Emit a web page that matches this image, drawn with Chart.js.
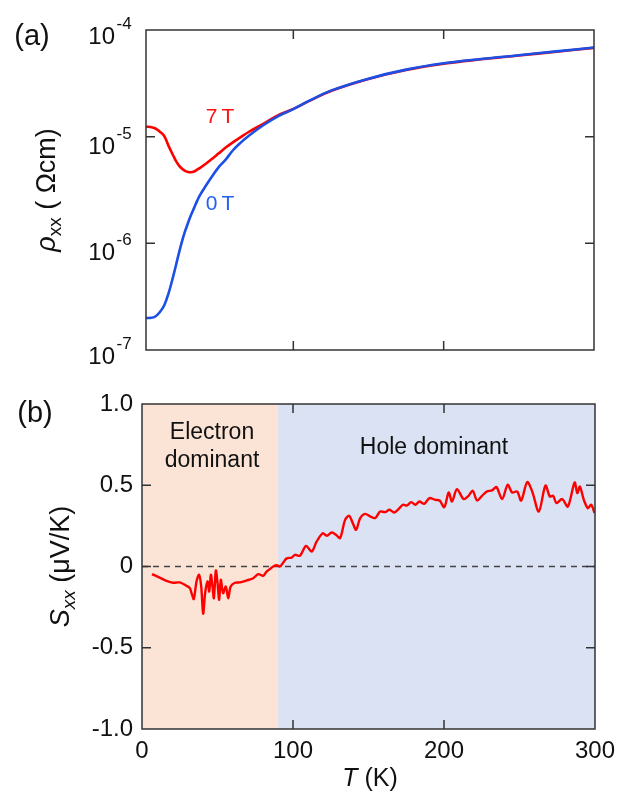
<!DOCTYPE html>
<html><head><meta charset="utf-8">
<script src="https://cdn.jsdelivr.net/npm/chart.js@4.4.1/dist/chart.umd.min.js"></script>
<style>
html,body{margin:0;padding:0;background:#fff;}
#wrap{position:relative;width:618px;height:791px;overflow:hidden;}
canvas{position:absolute;left:0;}
</style></head><body>
<div id="wrap">
<canvas id="ca" width="618" height="380" style="top:0px"></canvas>
<canvas id="cb" width="618" height="411" style="top:380px"></canvas>
</div>
<script>
const FONT = '"Liberation Sans", Arial, Helvetica, sans-serif';

// ---------- Panel (a): resistivity ----------
const tempA = [2,5,8,11,14,17,20,22,24,26,28,30,32,34,36,38,42,46,50,55,60,65,70,80,90,100,110,125,150,175,200,225,250,275,300];
const rho0T = [2.0e-7,2.0e-7,2.05e-7,2.25e-7,2.6e-7,3.4e-7,4.85e-7,6.3e-7,8.2e-7,1.05e-6,1.3e-6,1.56e-6,1.85e-6,2.15e-6,2.5e-6,2.85e-6,3.5e-6,4.25e-6,5.1e-6,6.1e-6,7.5e-6,8.8e-6,1.01e-5,1.28e-5,1.56e-5,1.81e-5,2.15e-5,2.7e-5,3.5e-5,4.25e-5,4.87e-5,5.35e-5,5.8e-5,6.3e-5,6.85e-5];
const rho7T = [1.24e-5,1.23e-5,1.2e-5,1.12e-5,1.02e-5,8.2e-6,6.7e-6,5.9e-6,5.35e-6,5.0e-6,4.78e-6,4.66e-6,4.64e-6,4.72e-6,4.9e-6,5.1e-6,5.6e-6,6.2e-6,6.9e-6,7.9e-6,8.9e-6,9.9e-6,1.1e-5,1.32e-5,1.59e-5,1.82e-5,2.14e-5,2.68e-5,3.47e-5,4.21e-5,4.83e-5,5.31e-5,5.76e-5,6.26e-5,6.8e-5];
const decadesA = [1e-4,1e-5,1e-6,1e-7];
const expLabelsA = ['-4','-5','-6','-7'];
const tempTicksA = [100,200];

// ---------- Panel (b): Seebeck ----------
const tempB = [6.6,11.7,16.2,20.6,25,29.5,31.7,32.8,34.3,36.1,37.8,39.2,40.5,41.8,43.4,44.5,45.6,46.7,47.6,48.9,50,51.1,52.2,53.7,55.5,57.1,58.7,61.5,64.8,69.3,73.7,77,80.3,82.5,84.7,86.9,89.2,91.4,93.6,95.8,99.1,101.3,104.6,108.6,112.4,115.7,119.7,122.4,125.7,128.5,131.2,134.5,137.2,139.6,141.8,144.5,147.8,151.1,154.4,157.7,161,163.9,167,169.9,172.8,175.4,178.3,181,183.8,186.9,190.4,194.2,197.1,200.2,203.1,205.3,208.6,213,216.3,219,221.9,225.2,228.5,231.8,234.7,238.5,242.2,245.1,248.4,251.1,255.1,258.4,262.8,267.2,270.1,272.3,274.5,278.3,282,286.5,288.3,290,292.6,295.3,297.5,299.7];
const seebeck = [-0.047,-0.068,-0.088,-0.10,-0.098,-0.119,-0.133,-0.164,-0.20,-0.092,-0.051,-0.123,-0.29,-0.164,-0.092,-0.154,-0.051,-0.123,-0.195,-0.025,-0.10,-0.205,-0.082,-0.164,-0.123,-0.195,-0.123,-0.10,-0.098,-0.086,-0.072,-0.047,-0.057,-0.031,-0.016,0.0,0.008,0.0,0.025,0.05,0.055,0.072,0.066,0.127,0.092,0.154,0.205,0.189,0.209,0.195,0.175,0.287,0.312,0.267,0.226,0.298,0.324,0.308,0.298,0.338,0.335,0.349,0.332,0.353,0.38,0.375,0.396,0.38,0.40,0.386,0.421,0.41,0.406,0.365,0.455,0.40,0.476,0.415,0.435,0.466,0.406,0.435,0.462,0.468,0.489,0.415,0.503,0.455,0.462,0.406,0.519,0.462,0.338,0.498,0.431,0.435,0.39,0.415,0.369,0.517,0.452,0.492,0.41,0.359,0.38,0.329];
const sTicksInner = [0.5,0,-0.5];
const tTicksInner = [100,200];
const electronRange = [0,90];
const holeRange = [90,300];

const TICK_LEN = 9;

function drawFrame(chart, xTicks, yTicks){
  const {ctx, chartArea:a, scales:{x,y}} = chart;
  ctx.save();
  ctx.strokeStyle = '#333'; ctx.lineWidth = 1.5;
  ctx.strokeRect(a.left, a.top, a.right-a.left, a.bottom-a.top);
  ctx.beginPath();
  xTicks.forEach(v=>{const p=x.getPixelForValue(v);
    ctx.moveTo(p,a.bottom); ctx.lineTo(p,a.bottom-TICK_LEN);
    ctx.moveTo(p,a.top); ctx.lineTo(p,a.top+TICK_LEN);});
  yTicks.forEach(v=>{const p=y.getPixelForValue(v);
    ctx.moveTo(a.left,p); ctx.lineTo(a.left+TICK_LEN,p);
    ctx.moveTo(a.right,p); ctx.lineTo(a.right-TICK_LEN,p);});
  ctx.stroke();
  ctx.restore();
}

function drawRotated(ctx, parts, cx, cy){
  ctx.save();
  ctx.translate(cx, cy);
  ctx.rotate(-Math.PI/2);
  let total = 0;
  parts.forEach(p=>{ctx.font=p.font; p.w=ctx.measureText(p.t).width; total+=p.w;});
  let xx = -total/2;
  ctx.textBaseline='alphabetic'; ctx.textAlign='left'; ctx.fillStyle='#111';
  parts.forEach(p=>{ctx.font=p.font; ctx.fillText(p.t, xx, p.dy||0); xx+=p.w;});
  ctx.restore();
}

function drawRich(ctx, parts, cx, baseline){
  let total = 0;
  parts.forEach(p=>{ctx.font=p.font; p.w=ctx.measureText(p.t).width; total+=p.w;});
  let xx = cx - total/2;
  ctx.textBaseline='alphabetic'; ctx.textAlign='left'; ctx.fillStyle='#111';
  parts.forEach(p=>{ctx.font=p.font; ctx.fillText(p.t, xx, baseline+(p.dy||0)); xx+=p.w;});
}

const decoA = {
  id:'decoA',
  afterDraw(chart){
    const {ctx, scales:{y}} = chart;
    drawFrame(chart, tempTicksA, decadesA.slice(1,3));
    ctx.save();
    ctx.fillStyle='#111';
    decadesA.forEach((v,i)=>{
      const p = y.getPixelForValue(v);
      const dy = (i===0||i===decadesA.length-1) ? 14 : 17;
      ctx.font = '24px '+FONT; ctx.textAlign='right'; ctx.textBaseline='alphabetic';
      ctx.fillText('10', 115, p+dy);
      ctx.font = '17px '+FONT; ctx.textAlign='left';
      ctx.fillText(expLabelsA[i], 116.5, p+dy-15);
    });
    drawRotated(ctx, [
      {t:'\u03C1', font:'italic 27px '+FONT},
      {t:'xx', font:'19px '+FONT, dy:6},
      {t:' ( \u03A9cm)', font:'27px '+FONT}
    ], 54.5, 190);
    ctx.font='29px '+FONT; ctx.textAlign='center'; ctx.textBaseline='middle'; ctx.fillStyle='#111';
    ctx.fillText('(a)', 32, 37);
    ctx.font='21px '+FONT;
    ctx.fillStyle='#ff1010'; ctx.fillText('7\u2009T', 220, 117);
    ctx.fillStyle='#2660f0'; ctx.fillText('0\u2009T', 220, 204);
    ctx.restore();
  }
};

new Chart(document.getElementById('ca'), {
  type:'line',
  data:{datasets:[
    {label:'0 T', data: tempA.map((t,i)=>({x:t,y:rho0T[i]})), borderColor:'#1c4fe6', borderWidth:2.6, pointRadius:0, tension:0.4, fill:false},
    {label:'7 T', data: tempA.map((t,i)=>({x:t,y:rho7T[i]})), borderColor:'#ff0000', borderWidth:2.6, pointRadius:0, tension:0.4, fill:false}
  ]},
  options:{
    responsive:false, animation:false, devicePixelRatio:1,
    layout:{padding:{top:30,right:24,left:0,bottom:0}},
    plugins:{legend:{display:false}, tooltip:{enabled:false}},
    scales:{
      x:{type:'linear', min:2, max:300, ticks:{display:false}, grid:{display:false, drawTicks:false}, border:{display:false}, afterFit(s){s.height=30;}},
      y:{type:'logarithmic', min:1e-7, max:1e-4, ticks:{display:false}, grid:{display:false, drawTicks:false}, border:{display:false}, afterFit(s){s.width=146;}}
    }
  },
  plugins:[decoA]
});

const decoB = {
  id:'decoB',
  beforeDatasetsDraw(chart){
    const {ctx, chartArea:a, scales:{x,y}} = chart;
    ctx.save();
    const e0=x.getPixelForValue(electronRange[0]), e1=x.getPixelForValue(electronRange[1]);
    const h0=x.getPixelForValue(holeRange[0]), h1=x.getPixelForValue(holeRange[1]);
    ctx.fillStyle='#fbe4d6'; ctx.fillRect(e0, a.top, e1-e0, a.bottom-a.top);
    ctx.fillStyle='#dae2f3'; ctx.fillRect(h0, a.top, h1-h0, a.bottom-a.top);
    const z = y.getPixelForValue(0);
    ctx.strokeStyle='#444'; ctx.lineWidth=1.4; ctx.setLineDash([6,5]);
    ctx.beginPath(); ctx.moveTo(a.left, z); ctx.lineTo(a.right, z); ctx.stroke();
    ctx.restore();
  },
  afterDraw(chart){
    const {ctx} = chart;
    drawFrame(chart, tTicksInner, sTicksInner);
    ctx.save();
    drawRotated(ctx, [
      {t:'S', font:'italic 27px '+FONT},
      {t:'xx', font:'italic 19px '+FONT, dy:6},
      {t:' (\u03BCV/K)', font:'27px '+FONT}
    ], 68.5, 186.5);
    drawRich(ctx, [
      {t:'T', font:'italic 25px '+FONT},
      {t:' (K)', font:'25px '+FONT}
    ], 370, 406);
    ctx.fillStyle='#111';
    ctx.font='29px '+FONT; ctx.textAlign='center'; ctx.textBaseline='middle';
    ctx.fillText('(b)', 35, 34);
    ctx.font='23px '+FONT;
    ctx.fillText('Electron', 212, 53);
    ctx.fillText('dominant', 212, 81);
    ctx.fillText('Hole dominant', 434, 68);
    ctx.restore();
  }
};

new Chart(document.getElementById('cb'), {
  type:'line',
  data:{datasets:[
    {label:'Sxx', data: tempB.map((t,i)=>({x:t,y:seebeck[i]})), borderColor:'#ff0000', borderWidth:2.4, pointRadius:0, tension:0.3, fill:false}
  ]},
  options:{
    responsive:false, animation:false, devicePixelRatio:1,
    layout:{padding:{top:24,right:23,left:0,bottom:0}},
    plugins:{legend:{display:false}, tooltip:{enabled:false}},
    scales:{
      x:{type:'linear', min:0, max:300, ticks:{stepSize:100, padding:8, color:'#111', font:{family:FONT, size:24}, maxRotation:0, autoSkip:false},
         grid:{display:false, drawTicks:false}, border:{display:false},
         afterFit(s){s.height=62; s.paddingLeft=0; s.paddingRight=0;}},
      y:{type:'linear', min:-1, max:1, ticks:{stepSize:0.5, padding:9, color:'#111', font:{family:FONT, size:24}, autoSkip:false,
           callback:(v)=> v===0 ? '0' : v.toFixed(1)},
         grid:{display:false, drawTicks:false}, border:{display:false},
         afterFit(s){s.width=142; s.paddingTop=0; s.paddingBottom=0;}}
    }
  },
  plugins:[decoB]
});
</script>
</body></html>
